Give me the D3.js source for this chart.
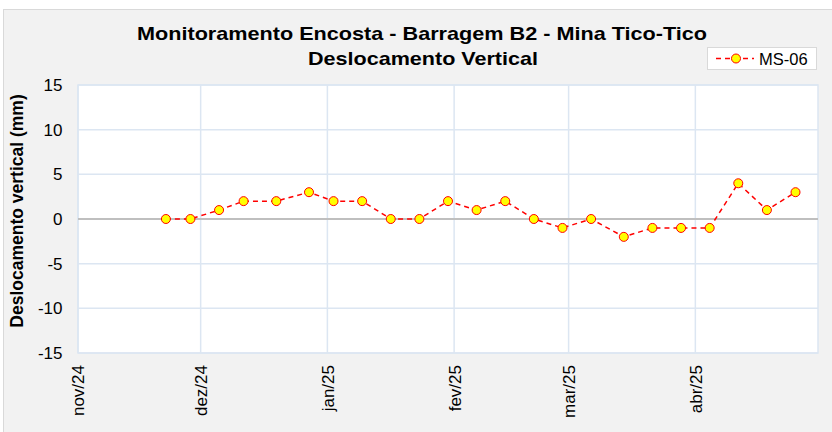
<!DOCTYPE html>
<html>
<head>
<meta charset="utf-8">
<script src="https://cdn.jsdelivr.net/npm/d3@7"></script>
<style>
  body { margin: 0; background: #fff; }
  svg { display: block; font-family: "Liberation Sans", Arial, sans-serif; }
</style>
</head>
<body>
<svg id="chart" width="832" height="432"></svg>
<script>
// readings (MS-06)
var dates = ['2024-11-22', '2024-11-28', '2024-12-05', '2024-12-11', '2024-12-19', '2024-12-27',
             '2025-01-02', '2025-01-09', '2025-01-16', '2025-01-23', '2025-01-30', '2025-02-06',
             '2025-02-13', '2025-02-20', '2025-02-27', '2025-03-06', '2025-03-14', '2025-03-21',
             '2025-03-28', '2025-04-04', '2025-04-11', '2025-04-18', '2025-04-25'];
var values = [0, 0, 1, 2, 2, 3, 2, 2, 0, 0, 2, 1, 2, 0, -1, 0, -2, -1, -1, -1, 4, 1, 3];

var monthTicks = ['2024-11-01', '2024-12-01', '2025-01-01', '2025-02-01', '2025-03-01', '2025-04-01'];
var monthLabels = ['nov/24', 'dez/24', 'jan/25', 'fev/25', 'mar/25', 'abr/25'];
var yTicks = [-15, -10, -5, 0, 5, 10, 15];

var seriesName = 'MS-06';
var title1 = 'Monitoramento Encosta - Barragem B2 - Mina Tico-Tico';
var title2 = 'Deslocamento Vertical';
var yTitle = 'Deslocamento vertical (mm)';

var parse = d3.isoParse;
// readings taken around midday
var data = dates.map((d, i) => ({ date: parse(d + 'T12:00:00'), v: values[i] }));

var svg = d3.select('#chart');

// chart area background
svg.append('rect')
   .attr('x', 3.5).attr('y', 9.5)
   .attr('width', 840).attr('height', 440)
   .attr('fill', '#f2f2f2')
   .attr('stroke', '#d9d9d9');

// plot box (note: "top" is reserved on window)
var pLeft = 78, pRight = 818, pTop = 85, pBottom = 353;

var x = d3.scaleTime()
    .domain([parse('2024-11-01T00:00:00'), parse('2025-05-01T00:00:00')])
    .range([pLeft, pRight]);
var y = d3.scaleLinear().domain([-15, 15]).range([pBottom, pTop]);

// plot area
svg.append('rect')
   .attr('x', pLeft).attr('y', pTop)
   .attr('width', pRight - pLeft).attr('height', pBottom - pTop)
   .attr('fill', '#fff');

var grid = svg.append('g');
grid.selectAll('.hg')
    .data(yTicks)
    .enter().append('line')
    .attr('x1', pLeft).attr('x2', pRight)
    .attr('y1', d => y(d)).attr('y2', d => y(d))
    .attr('stroke', '#dce6f2').attr('stroke-width', 1.5);
grid.selectAll('.vg')
    .data(monthTicks.map(parse))
    .enter().append('line')
    .attr('x1', d => x(d)).attr('x2', d => x(d))
    .attr('y1', pTop).attr('y2', pBottom)
    .attr('stroke', '#dce6f2').attr('stroke-width', 1.5);
svg.append('rect')
   .attr('x', pLeft).attr('y', pTop)
   .attr('width', pRight - pLeft).attr('height', pBottom - pTop)
   .attr('fill', 'none').attr('stroke', '#dce6f2').attr('stroke-width', 1.5);

// zero line
svg.append('line')
   .attr('x1', pLeft).attr('x2', pRight)
   .attr('y1', y(0)).attr('y2', y(0))
   .attr('stroke', '#bfbfbf').attr('stroke-width', 2);

// y axis (plain hyphen for negatives, like the source)
var yAxis = d3.axisLeft(y).tickValues(yTicks).tickFormat(d => String(d))
    .tickSize(0).tickPadding(15.5);
var gy = svg.append('g').attr('transform', 'translate(' + pLeft + ',0)').call(yAxis);
gy.select('.domain').remove();
gy.selectAll('text').attr('font-size', 17).attr('fill', '#000')
  .attr('font-family', '"Liberation Sans", Arial, sans-serif');

// x axis
var xAxis = d3.axisBottom(x).tickValues(monthTicks.map(parse))
    .tickFormat((d, i) => monthLabels[i]).tickSize(0);
var gx = svg.append('g').attr('transform', 'translate(0,' + pBottom + ')').call(xAxis);
gx.select('.domain').remove();
gx.selectAll('text')
  .attr('font-size', 17).attr('fill', '#000')
  .attr('font-family', '"Liberation Sans", Arial, sans-serif')
  .attr('transform', 'rotate(-90)')
  .attr('text-anchor', 'end')
  .attr('x', -12).attr('y', 0).attr('dy', '0.35em');

// series
var line = d3.line().x(d => x(d.date)).y(d => y(d.v));
svg.append('path')
   .datum(data)
   .attr('d', line)
   .attr('fill', 'none')
   .attr('stroke', '#ff0000')
   .attr('stroke-width', 1.5)
   .attr('stroke-dasharray', '5,4');
svg.selectAll('.pt')
   .data(data)
   .enter().append('circle')
   .attr('cx', d => x(d.date)).attr('cy', d => y(d.v))
   .attr('r', 4.5)
   .attr('fill', '#ffff00').attr('stroke', '#ff0000').attr('stroke-width', 1);

// titles
svg.append('text')
   .attr('x', 422).attr('y', 40)
   .attr('text-anchor', 'middle')
   .attr('font-size', 19).attr('font-weight', 'bold')
   .attr('textLength', 570).attr('lengthAdjust', 'spacingAndGlyphs')
   .text(title1);
svg.append('text')
   .attr('x', 423).attr('y', 65)
   .attr('text-anchor', 'middle')
   .attr('font-size', 19).attr('font-weight', 'bold')
   .attr('textLength', 230).attr('lengthAdjust', 'spacingAndGlyphs')
   .text(title2);

svg.append('text')
   .attr('transform', 'translate(23,211) rotate(-90)')
   .attr('text-anchor', 'middle')
   .attr('font-size', 17.5).attr('font-weight', 'bold')
   .text(yTitle);

// legend
var lg = svg.append('g').attr('transform', 'translate(707,47)');
lg.append('rect')
  .attr('x', 0.5).attr('y', 0.5).attr('width', 109).attr('height', 22)
  .attr('fill', '#fff').attr('stroke', '#d9d9d9');
lg.append('line')
  .attr('x1', 9).attr('x2', 47).attr('y1', 11.5).attr('y2', 11.5)
  .attr('stroke', '#ff0000').attr('stroke-width', 1.5).attr('stroke-dasharray', '5,4');
lg.append('circle')
  .attr('cx', 29).attr('cy', 11.5).attr('r', 4.5)
  .attr('fill', '#ffff00').attr('stroke', '#ff0000');
lg.append('text')
  .attr('x', 52).attr('y', 17.5)
  .attr('font-size', 16.5)
  .text(seriesName);
</script>
</body>
</html>
